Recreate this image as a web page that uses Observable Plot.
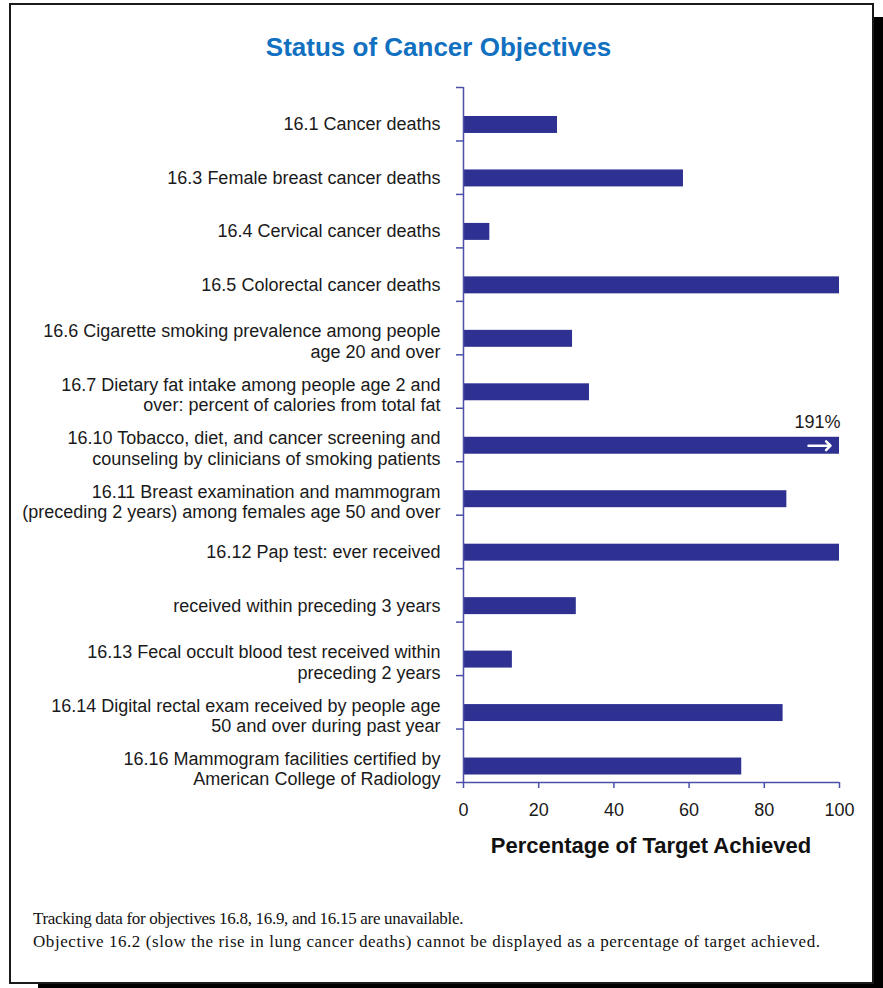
<!DOCTYPE html>
<html>
<head>
<meta charset="utf-8">
<script src="https://cdn.jsdelivr.net/npm/d3@7"></script>
<script src="https://cdn.jsdelivr.net/npm/@observablehq/plot@0.6"></script>
<style>
  html, body { margin: 0; padding: 0; background: #fff; width: 883px; height: 988px; overflow: hidden; }
  #frame { position: absolute; left: 9px; top: 3px; width: 861px; height: 977px; border: 2px solid #1a1a1a; box-shadow: 29px 14px 0 #000; background: #fff; }
  #title { position: absolute; left: 0; top: 34px; width: 877px; text-align: center; font: bold 26px/26px "Liberation Sans", Arial, sans-serif; color: #1170c0; }
  #chart { position: absolute; left: 0; top: 0; }
  #xlabel { position: absolute; left: 451px; top: 835px; width: 400px; text-align: center; font: bold 22px/22px "Liberation Sans", Arial, sans-serif; color: #111; }
  #note { position: absolute; left: 33px; top: 907px; font: 17px/23px "Liberation Serif", "Times New Roman", serif; color: #111; white-space: nowrap; }
  #note .l1 { letter-spacing: -0.3px; }
  #note .l2 { letter-spacing: 0.56px; }
</style>
</head>
<body>
<div id="frame"></div>
<div id="title">Status of Cancer Objectives</div>
<div id="chart"></div>
<div id="xlabel">Percentage of Target Achieved</div>
<div id="note"><span class="l1">Tracking data for objectives 16.8, 16.9, and 16.15 are unavailable.</span><br><span class="l2">Objective 16.2 (slow the rise in lung cancer deaths) cannot be displayed as a percentage of target achieved.</span></div>
<script>
// Objectives (top to bottom)
const objectives = [
  "16.1 Cancer deaths",
  "16.3 Female breast cancer deaths",
  "16.4 Cervical cancer deaths",
  "16.5 Colorectal cancer deaths",
  "16.6 Cigarette smoking prevalence among people\nage 20 and over",
  "16.7 Dietary fat intake among people age 2 and\nover: percent of calories from total fat",
  "16.10 Tobacco, diet, and cancer screening and\ncounseling by clinicians of smoking patients",
  "16.11 Breast examination and mammogram\n(preceding 2 years) among females age 50 and over",
  "16.12 Pap test: ever received",
  "received within preceding 3 years",
  "16.13 Fecal occult blood test received within\npreceding 2 years",
  "16.14 Digital rectal exam received by people age\n50 and over during past year",
  "16.16 Mammogram facilities certified by\nAmerican College of Radiology"
];
// Percentage of target achieved
const achieved = [25, 58.5, 7, 100, 29, 33.5, 191, 86, 100, 30, 13, 85, 74];
// x-axis ticks
const xTicks = [0, 20, 40, 60, 80, 100];
const axisMax = 100;

const data = objectives.map((label, i) => ({label, value: achieved[i], i, shown: Math.min(achieved[i], axisMax)}));
const bounds = d3.range(objectives.length + 1);

const barColor = "#2e3192";
const axisColor = "#4b4fa8";
const font = '"Liberation Sans", Arial, sans-serif';

const chart = Plot.plot({
  width: 883,
  height: 870,
  marginLeft: 463,
  marginRight: 44,
  marginTop: 87,
  marginBottom: 88,
  style: {background: "transparent", fontFamily: font, color: "#1a1a1a", overflow: "visible"},
  x: {domain: [0, axisMax]},
  y: {domain: [0, objectives.length], reverse: true},
  marks: [
    Plot.rect(data, {x1: 0, x2: "shown", y1: "i", y2: d => d.i + 1, insetTop: 29, insetBottom: 7.5, fill: barColor}),
    Plot.ruleX([0], {y1: 0, y2: objectives.length, stroke: axisColor, strokeWidth: 1.5}),
    Plot.ruleY([objectives.length], {x1: 0, x2: axisMax, stroke: axisColor, strokeWidth: 1.5}),
    Plot.axisY({ticks: bounds, tickSize: 7, tickFormat: () => "", stroke: axisColor, strokeWidth: 1.5, label: null}),
    Plot.axisX({ticks: xTicks, tickSize: 6, tickPadding: 15, fontSize: 18, stroke: axisColor, strokeWidth: 1.5, fill: "#1a1a1a", label: null}),
    Plot.text(data, {filter: d => !d.label.includes("\n"), x: 0, y: d => d.i + 0.5, text: "label", textAnchor: "end", dx: -23, dy: 10.5, fontSize: 18, fill: "#1a1a1a"}),
    Plot.text(data, {filter: d => d.label.includes("\n"), x: 0, y: d => d.i + 0.5, text: "label", textAnchor: "end", dx: -23, dy: 13, fontSize: 18, lineHeight: 1.13, fill: "#1a1a1a"}),
    Plot.text(data, {filter: d => d.value > axisMax, x: "shown", y: "i", text: d => `${d.value}%`, textAnchor: "end", dx: 1, dy: 14.4, fontSize: 18, fill: "#1a1a1a"}),
    Plot.vector(data, {filter: d => d.value > axisMax, x: "shown", y: "i", dx: -9, dy: 37.4, length: 22, rotate: 90, anchor: "end", stroke: "white", strokeWidth: 2.5})
  ]
});
document.getElementById("chart").appendChild(chart);
</script>
</body>
</html>
